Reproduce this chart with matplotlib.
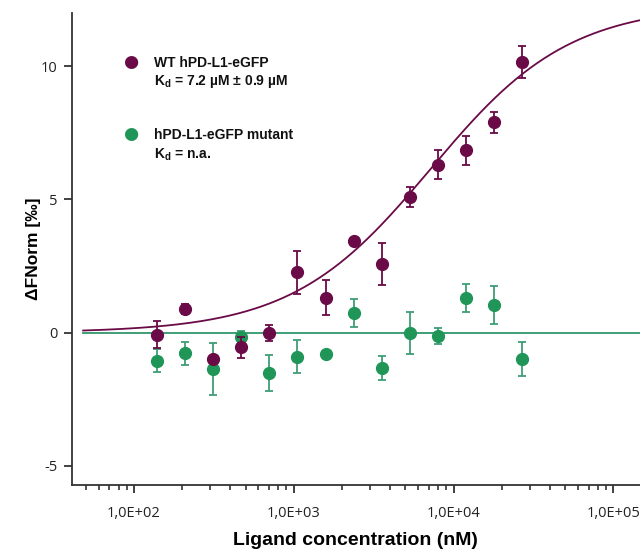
import matplotlib
matplotlib.use('Agg')
import matplotlib.pyplot as plt
import matplotlib.ticker as ticker
import numpy as np

plt.rcParams['mathtext.fontset'] = 'custom'
plt.rcParams['mathtext.rm'] = 'Liberation Sans:bold'
plt.rcParams['mathtext.it'] = 'Liberation Sans:bold'
plt.rcParams['mathtext.bf'] = 'Liberation Sans:bold'

# ligand concentrations (nM)
conc = [139, 208, 312, 468, 702, 1053, 1580, 2370, 3556, 5333, 8000, 12000, 18000, 27000]

# WT hPD-L1-eGFP
wt_y = [-0.08, 0.89, -0.97, -0.55, -0.03, 2.26, 1.32, 3.45, 2.58, 5.08, 6.3, 6.84, 7.9, 10.16]
wt_err = [0.5, 0.2, 0.0, 0.4, 0.3, 0.8, 0.65, 0.1, 0.8, 0.37, 0.55, 0.55, 0.4, 0.6]

# hPD-L1-eGFP mutant
mut_y = [-1.05, -0.78, -1.36, -0.15, -1.5, -0.9, -0.8, 0.73, -1.33, -0.01, -0.11, 1.29, 1.04, -0.98]
mut_err = [0.42, 0.42, 0.98, 0.2, 0.68, 0.62, 0.0, 0.53, 0.44, 0.78, 0.3, 0.52, 0.72, 0.64]

# fit parameters
kd = 7200.0
amp = 12.3

wt_col = '#6a0a47'
mut_col = '#1f9657'
mut_line = '#3f9e76'

fig = plt.figure(figsize=(6.4, 5.5), dpi=100)
ax = fig.add_axes([0.112, 0.118, 0.888, 0.859])

xfit = np.logspace(np.log10(48), np.log10(1.6e5), 400)
ax.plot(xfit, amp * xfit / (xfit + kd), color=wt_col, lw=1.3, zorder=2)
ax.plot([48, 1.6e5], [0, 0], color=mut_line, lw=1.4, zorder=2)

ax.errorbar(conc, mut_y, yerr=mut_err, fmt='o', color=mut_col, ecolor=mut_line,
            ms=8.5, elinewidth=1.3, capsize=3, capthick=1.3, zorder=3)
ax.errorbar(conc, wt_y, yerr=wt_err, fmt='o', color=wt_col, ecolor=wt_col,
            ms=8.5, elinewidth=1.3, capsize=3, capthick=1.3, zorder=4)

ax.set_xscale('log')
ax.set_xlim(40.7, 1.47e5)
ax.set_ylim(-5.72, 12.01)

ax.spines['top'].set_visible(False)
ax.spines['right'].set_visible(False)
for s in ['left', 'bottom']:
    ax.spines[s].set_color('#333333')
    ax.spines[s].set_linewidth(1.3)

ax.set_yticks([-5, 0, 5, 10])
ax.set_yticklabels(['-5', '0', '5', '10'])
ax.set_xticks([1e2, 1e3, 1e4, 1e5])
ax.set_xticklabels(['1,0E+02', '1,0E+03', '1,0E+04', '1,0E+05'])
ax.xaxis.set_minor_locator(ticker.LogLocator(base=10, subs=np.arange(2, 10)))
ax.xaxis.set_minor_formatter(ticker.NullFormatter())
ax.tick_params(axis='both', which='major', direction='out', length=6, width=1.3,
               color='#333333', labelcolor='#222222', labelsize=10.5, pad=9)
ax.tick_params(axis='y', which='major', pad=4)
ax.tick_params(axis='x', which='minor', direction='out', length=3.5, width=1.2, color='#333333')
for lab in ax.get_xticklabels() + ax.get_yticklabels():
    lab.set_family('Open Sans')

ax.set_xlabel('Ligand concentration (nM)', family='Liberation Sans', weight='bold',
              fontsize=14, labelpad=8)
ax.set_ylabel('ΔFNorm [‰]', family='Liberation Sans', weight='bold', fontsize=12.5, labelpad=0)

# legend drawn as text
tx = dict(family='Liberation Sans', weight='bold', fontsize=10, color='#111111',
          transform=fig.transFigure, va='center', ha='left')
fig.text(131 / 640, 1 - 62 / 550, '●', color=wt_col, fontsize=12.5, ha='center', va='center',
         family='DejaVu Sans')
fig.text(154 / 640, 1 - 63 / 550, 'WT hPD-L1-eGFP', **tx)
fig.text(154 / 640, 1 - 82 / 550, r'K$_{\mathrm{d}}$ = 7.2 µM ± 0.9 µM', **tx)
fig.text(131 / 640, 1 - 134 / 550, '●', color=mut_col, fontsize=12.5, ha='center', va='center',
         family='DejaVu Sans')
fig.text(154 / 640, 1 - 135 / 550, 'hPD-L1-eGFP mutant', **tx)
fig.text(154 / 640, 1 - 155 / 550, r'K$_{\mathrm{d}}$ = n.a.', **tx)

fig.savefig('out.png', dpi=100)
